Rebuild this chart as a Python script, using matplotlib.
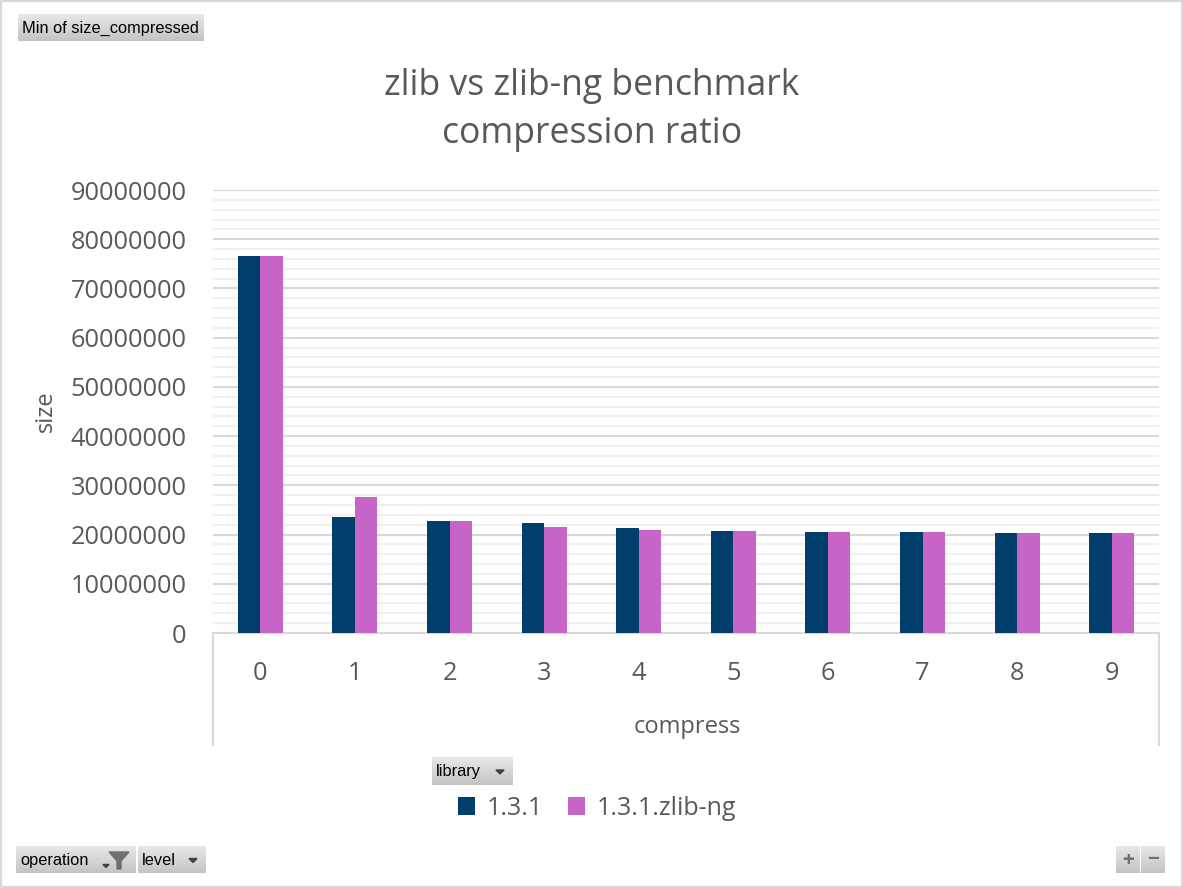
import numpy as np
import matplotlib
matplotlib.use("Agg")
import matplotlib.pyplot as plt
from matplotlib.colors import LinearSegmentedColormap
from matplotlib.patches import Rectangle, Polygon
from matplotlib.ticker import MultipleLocator

# data
levels = ["0", "1", "2", "3", "4", "5", "6", "7", "8", "9"]
zlib_sizes = [76.6e6, 23.5e6, 22.7e6, 22.3e6, 21.3e6, 20.67e6, 20.47e6, 20.47e6, 20.27e6, 20.27e6]
zlibng_sizes = [76.6e6, 27.6e6, 22.7e6, 21.5e6, 20.9e6, 20.67e6, 20.47e6, 20.47e6, 20.27e6, 20.27e6]
series_names = ["1.3.1", "1.3.1.zlib-ng"]

NAVY = "#013e6b"
PINK = "#c664c8"
GREY_TXT = "#595959"
W, H = 1183, 888

plt.rcParams["font.family"] = ["Open Sans", "DejaVu Sans"]


def fx(x):
    return x / W


def fy(y):
    return 1 - y / H


fig = plt.figure(figsize=(W / 100, H / 100), dpi=100)
fig.patches.append(Rectangle((0, 0), 1, 1, transform=fig.transFigure,
                             fill=False, edgecolor="#d9d9d9", lw=3))

# plot area
ax = fig.add_axes([fx(213), fy(633), (1159 - 213) / W, (633 - 190) / H])
x = np.arange(len(levels))
w = 0.238
ax.bar(x - w / 2, zlib_sizes, w, color=NAVY, label=series_names[0], zorder=3)
ax.bar(x + w / 2, zlibng_sizes, w, color=PINK, label=series_names[1], zorder=3)
ax.set_xlim(-0.5, len(levels) - 0.5)
ax.set_ylim(0, 90e6)
ax.yaxis.set_major_locator(MultipleLocator(10e6))
ax.yaxis.set_minor_locator(MultipleLocator(2e6))
ax.yaxis.set_major_formatter(plt.FuncFormatter(lambda v, p: f"{int(round(v))}"))
ax.grid(axis="y", which="major", color="#d9d9d9", lw=1.5, zorder=0)
ax.grid(axis="y", which="minor", color="#f0f0f0", lw=1.5, zorder=0)
ax.set_xticks(x)
ax.set_xticklabels(levels)
ax.tick_params(axis="both", which="both", length=0, colors=GREY_TXT, labelsize=18.3)
ax.tick_params(axis="y", pad=19)
ax.tick_params(axis="x", pad=20)
for s in ["top", "left", "right"]:
    ax.spines[s].set_visible(False)
ax.spines["bottom"].set_color("#d9d9d9")
ax.spines["bottom"].set_linewidth(1.5)

# category box lines below the axis
for xv in (213, 1159):
    fig.add_artist(plt.Line2D([fx(xv), fx(xv)], [fy(633), fy(745)],
                              transform=fig.transFigure, color="#d9d9d9", lw=1.5))

fig.text(fx(592), fy(86), "zlib vs zlib-ng benchmark", ha="center", va="center",
         fontsize=25.6, color=GREY_TXT)
fig.text(fx(592), fy(134), "compression ratio", ha="center", va="center",
         fontsize=25.6, color=GREY_TXT)
fig.text(fx(46), fy(411), "size", rotation=90, ha="center", va="center",
         fontsize=17, color=GREY_TXT)
fig.text(fx(687), fy(727), "compress", ha="center", va="center",
         fontsize=17, color=GREY_TXT)

handles, labels = ax.get_legend_handles_labels()
fig.legend(handles, labels, ncol=2, loc="center", bbox_to_anchor=(fx(597), fy(808)),
           frameon=False, fontsize=18, labelcolor=GREY_TXT, handlelength=0.7,
           handleheight=0.7, columnspacing=1.0, handletextpad=0.45)

# pivot field buttons
btn_cmap = LinearSegmentedColormap.from_list("btn", ["#e8e8e8", "#c4c4c4"])
BTN_FONT = ["Liberation Sans", "DejaVu Sans"]


def button(x0, y0, x1, y1, label, arrow=False, funnel=False, fs=11.5):
    bw, bh = x1 - x0, y1 - y0
    bax = fig.add_axes([fx(x0), fy(y1), bw / W, bh / H])
    grad = np.linspace(0, 1, 50).reshape(-1, 1)
    bax.imshow(grad, aspect="auto", cmap=btn_cmap, extent=(0, bw, bh, 0))
    bax.set_xlim(0, bw)
    bax.set_ylim(bh, 0)
    bax.axis("off")
    if label:
        bax.text(4, bh / 2 + 0.5, label, ha="left", va="center", fontsize=fs,
                 color="black", family=BTN_FONT)
    if arrow:
        ax_x = bw - 13 if not funnel else bw - 30
        bax.add_patch(Polygon([[ax_x - 4, bh / 2 - 1], [ax_x + 4, bh / 2 - 1],
                               [ax_x, bh / 2 + 3]] if not funnel else
                              [[ax_x - 3, bh / 2 + 5], [ax_x + 3, bh / 2 + 5],
                               [ax_x, bh / 2 + 8]], color="#404040"))
    if funnel:
        fxc = bw - 17
        bax.add_patch(Polygon([[fxc - 10, 6], [fxc + 10, 6], [fxc + 2, 15], [fxc + 2, 23],
                               [fxc - 2, 23], [fxc - 2, 15]], color="#707070"))
    return bax


button(18, 14, 204, 41, "Min of size_compressed", fs=11.8)
button(432, 757, 513, 785, "library", arrow=True, fs=11.8)
button(16, 846, 136, 873, "operation", arrow=True, funnel=True, fs=11.8)
button(138, 846, 206, 873, "level", arrow=True, fs=11.8)
pb = button(1116, 846, 1140, 873, "")
pb.text(12, 14, "+", ha="center", va="center", fontsize=15, color="#707070", fontweight="bold")
mb = button(1141, 846, 1165, 873, "")
mb.text(12, 13, "\u2212", ha="center", va="center", fontsize=15, color="#707070", fontweight="bold")

fig.savefig("out.png", dpi=100)
